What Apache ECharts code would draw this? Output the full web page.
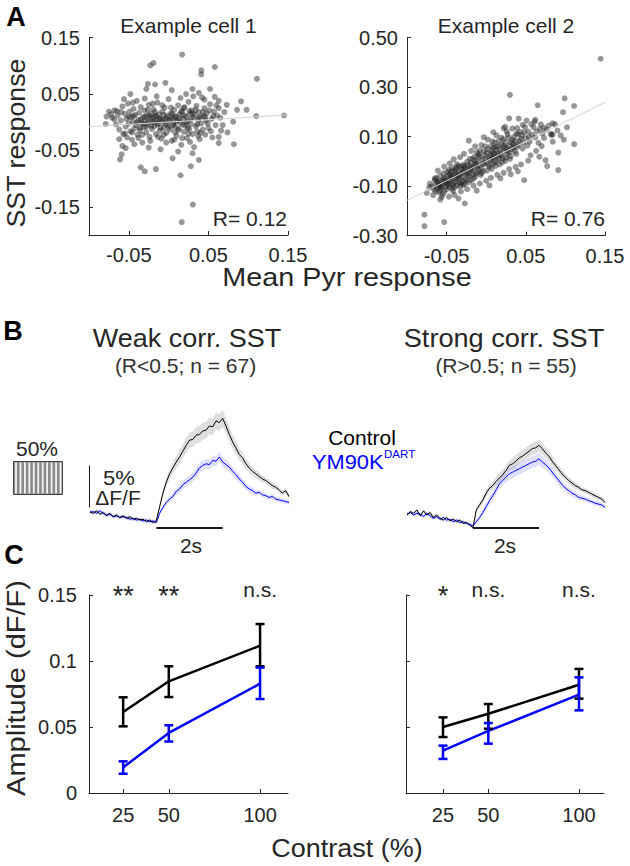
<!DOCTYPE html>
<html><head><meta charset="utf-8">
<script src="https://cdn.jsdelivr.net/npm/echarts@6/dist/echarts.min.js"></script>
<style>html,body{margin:0;padding:0;background:#fff}#c{width:630px;height:866px}</style>
</head><body><div id="c"></div>
<script>
const FONT = '"Liberation Sans", Arial, Helvetica, sans-serif';
const INK = '#262626';

// ---------------- Panel A data ----------------
const cell1Points = [
[-0.071,0.008],[-0.066,-0.004],[-0.064,0.012],[-0.062,-0.013],[-0.060,0.003],[-0.058,0.028],[-0.057,-0.021],[-0.055,0.015],[-0.054,-0.008],[-0.053,0.006],
[-0.052,-0.027],[-0.051,0.033],[-0.050,-0.002],[-0.049,0.019],[-0.048,-0.016],[-0.047,0.009],[-0.046,-0.031],[-0.045,0.001],[-0.044,0.024],[-0.043,-0.011],
[-0.042,0.013],[-0.041,-0.005],[-0.040,0.038],[-0.039,-0.022],[-0.038,0.004],[-0.037,0.017],[-0.036,-0.014],[-0.035,0.027],[-0.034,-0.001],[-0.033,-0.036],
[-0.032,0.009],[-0.031,-0.009],[-0.030,0.021],[-0.029,0.002],[-0.028,-0.018],[-0.027,0.012],[-0.026,-0.004],[-0.025,0.031],[-0.024,-0.026],[-0.023,0.006],
[-0.022,0.015],[-0.021,-0.012],[-0.020,0.001],[-0.019,0.023],[-0.018,-0.007],[-0.017,0.010],[-0.016,-0.021],[-0.015,0.004],[-0.014,0.035],[-0.013,-0.002],
[-0.012,0.014],[-0.011,-0.015],[-0.010,0.007],[-0.009,-0.029],[-0.008,0.019],[-0.007,0.000],[-0.006,-0.010],[-0.005,0.026],[-0.004,0.005],[-0.003,-0.019],
[-0.002,0.012],[-0.001,-0.005],[0.000,0.041],[0.001,0.003],[0.002,-0.013],[0.003,0.016],[0.004,-0.033],[0.005,0.008],[0.006,-0.002],[0.007,0.022],
[0.008,-0.008],[0.009,0.011],[0.010,-0.024],[0.011,0.004],[0.012,0.030],[0.013,-0.011],[0.014,0.014],[0.015,-0.001],[0.016,-0.040],[0.017,0.018],
[0.018,0.006],[0.019,-0.017],[0.020,0.027],[0.021,-0.006],[0.022,0.010],[0.023,-0.028],[0.024,0.002],[0.025,0.036],[0.026,-0.012],[0.027,0.015],
[0.028,-0.003],[0.029,0.021],[0.030,-0.021],[0.031,0.008],[0.032,-0.044],[0.033,0.013],[0.034,-0.007],[0.035,0.029],[0.036,-0.016],[0.037,0.004],
[0.038,0.018],[0.039,-0.030],[0.040,0.009],[0.041,-0.002],[0.042,0.044],[0.043,-0.013],[0.044,0.011],[0.045,0.025],[0.046,-0.022],[0.047,0.003],
[0.048,0.016],[0.050,-0.010],[0.052,0.032],[0.054,0.006],[0.055,-0.027],[0.057,0.019],[0.059,-0.005],[0.061,0.012],[0.063,0.038],[0.066,-0.015],
[-0.035,0.005],[-0.032,-0.003],[-0.030,0.010],[-0.028,-0.008],[-0.026,0.002],[-0.024,0.012],[-0.022,-0.006],[-0.020,0.008],[-0.018,0.000],[-0.016,0.012],
[-0.014,-0.004],[-0.012,0.006],[-0.010,-0.010],[-0.008,0.004],[-0.006,0.013],[-0.004,-0.003],[-0.002,0.008],[0.000,-0.009],[0.002,0.005],[0.004,0.015],
[0.006,-0.005],[0.008,0.009],[0.010,0.001],[0.012,-0.014],[0.014,0.007],[0.016,0.020],[0.018,-0.004],[0.020,0.012],[0.022,0.000],[0.024,-0.010],
[0.026,0.020],[0.028,0.006],[0.030,0.016],[0.025,-0.020],[0.019,0.025],[0.008,-0.018],[-0.006,-0.022],[-0.017,0.018],[-0.026,0.022],[-0.036,-0.010],
[-0.040,0.000],[-0.044,0.011],[-0.046,-0.018],[-0.038,-0.028],[-0.050,0.010],[-0.055,-0.020],[-0.060,0.018],[-0.065,0.020],[-0.068,0.005],[-0.072,0.014],
[0.034,0.022],[0.036,-0.004],[0.038,0.008],[0.040,-0.019],[0.043,0.018],[0.046,0.009],[0.049,-0.002],[0.051,0.021],[0.053,-0.016],[0.056,0.011],
[-0.033,-0.022],[-0.023,-0.033],[-0.013,-0.026],[-0.003,-0.036],[0.007,-0.031],[0.017,-0.028],[0.027,-0.035],[0.037,-0.024],[-0.043,-0.039],[-0.025,-0.045],
[-0.010,-0.048],[0.012,-0.052],[0.030,-0.055],[-0.008,0.030],[0.003,0.026],[-0.020,0.033],[-0.030,0.042],[-0.045,0.035],[0.015,0.043],[0.045,0.040],
[0.022,0.050],[0.038,0.052],[-0.015,0.046],[0.060,0.030],[0.065,0.008],[0.070,0.018],[0.068,-0.005],[0.058,0.045],[-0.062,-0.030],[-0.058,-0.042],
[0.017,0.120],[-0.019,0.105],[-0.023,0.101],[0.041,0.092],[0.041,0.085],[0.058,0.098],[0.111,0.077],[0.145,0.012],[0.110,0.011],[0.098,0.022],
[0.091,0.037],[0.086,0.022],[0.081,0.001],[0.082,-0.039],[0.074,-0.018],[0.063,-0.037],[0.063,-0.026],[0.0165,-0.177],[0.0305,-0.146],[0.015,-0.094],
[0.028,-0.078],[0.038,-0.067],[0.005,-0.064],[-0.016,-0.083],[-0.030,-0.087],[-0.035,-0.080],[-0.061,-0.066],[-0.059,-0.057],[-0.054,-0.046],[-0.078,0.010],
[-0.079,-0.003],[-0.075,0.019],[-0.068,0.021],[-0.056,0.041],[-0.048,0.050],[-0.028,0.059],[-0.026,0.068],[-0.017,0.067],[-0.004,0.070],[0.004,0.057],
[0.030,0.059],[0.031,0.046],[0.052,0.059],[0.063,0.025],[0.073,0.031]
];
const cell2Points = [
[-0.052,-0.088],[-0.031,-0.047],[-0.012,-0.021],[0.008,0.034],[-0.044,-0.061],[0.021,0.012],[-0.025,-0.078],[-0.058,-0.117],[0.003,-0.015],[-0.038,-0.032],
[0.015,0.061],[-0.017,-0.052],[-0.064,-0.095],[0.027,0.043],[-0.008,0.018],[-0.047,-0.104],[0.011,-0.006],[-0.029,-0.013],[-0.053,-0.069],[0.034,0.072],
[-0.021,-0.036],[-0.003,0.041],[-0.041,-0.085],[0.018,0.029],[-0.034,-0.066],[-0.059,-0.078],[0.006,0.009],[-0.014,0.004],[-0.049,-0.043],[0.024,0.077],
[-0.026,-0.025],[0.001,-0.037],[-0.037,-0.098],[0.031,0.021],[-0.011,-0.044],[-0.055,-0.132],[0.013,0.046],[-0.019,-0.007],[-0.043,-0.027],[0.039,0.058],
[-0.006,-0.028],[-0.032,-0.089],[0.009,0.055],[-0.062,-0.108],[-0.023,-0.058],[0.020,-0.003],[-0.046,-0.076],[-0.001,0.012],[-0.039,-0.051],[0.028,0.096],
[-0.016,-0.069],[-0.051,-0.101],[0.005,0.027],[-0.028,-0.041],[0.036,0.040],[-0.009,0.030],[-0.042,-0.119],[0.016,0.011],[-0.035,-0.018],[-0.057,-0.088],
[0.023,0.054],[-0.013,-0.010],[-0.048,-0.057],[0.002,0.050],[-0.027,-0.091],[0.033,0.087],[-0.020,-0.023],[-0.060,-0.125],[0.010,0.019],[-0.036,-0.073],
[-0.004,-0.008],[0.026,0.030],[-0.045,-0.093],[-0.015,0.019],[0.012,-0.018],[-0.030,-0.063],[-0.054,-0.048],[0.019,0.068],[-0.007,-0.055],[-0.040,-0.037],
[0.030,0.010],[-0.024,-0.002],[-0.050,-0.113],[0.007,0.043],[-0.033,-0.052],[0.037,0.083],[-0.010,-0.033],[-0.056,-0.099],[0.014,0.034],[-0.022,-0.084],
[-0.002,0.026],[-0.044,-0.041],[0.022,0.090],[-0.018,-0.039],[-0.061,-0.087],[0.004,-0.022],[-0.037,-0.011],[0.029,0.064],[-0.012,0.037],[-0.048,-0.080],
[0.017,-0.012],[-0.027,-0.072],[-0.058,-0.058],[0.035,0.099],[-0.005,0.006],[-0.040,-0.104],[0.011,0.075],[-0.031,-0.030],[-0.052,-0.066],[0.025,0.015],
[-0.014,-0.062],[0.000,-0.004],[-0.043,-0.071],[0.032,0.049],[-0.021,0.011],[-0.066,-0.112],[0.008,-0.010],[-0.034,-0.085],[0.041,0.068],[-0.009,-0.017],
[-0.047,-0.034],[0.018,0.048],[-0.025,-0.050],[-0.063,-0.066],[0.006,0.062],[-0.038,-0.064],[0.027,0.109],[-0.016,-0.026],[-0.053,-0.122],[0.013,0.003],
[-0.029,-0.096],[-0.001,0.061],[-0.041,-0.055],[0.038,0.031],[-0.011,-0.001],[-0.057,-0.107],[0.021,0.041],[-0.019,-0.076],[0.003,0.017],[-0.035,-0.044],
[0.044,0.092],[-0.006,-0.047],[-0.050,-0.087],[0.016,0.083],[-0.023,-0.015],[-0.045,-0.062],[0.010,0.031],[-0.032,-0.022],[-0.060,-0.098],[0.024,0.002],
[-0.013,-0.049],[-0.039,-0.081],[0.034,0.056],[-0.003,-0.011],[-0.027,-0.033],[0.019,0.022],[-0.055,-0.075],[0.007,-0.030],[-0.017,0.009],[-0.042,-0.096],
[0.047,0.075],[-0.008,0.044],[-0.030,-0.081],[0.012,0.059],[-0.048,-0.093],[0.029,0.036],[-0.021,-0.060],[-0.062,-0.081],[0.001,0.035],[-0.036,-0.058],
[0.040,0.110],[-0.015,-0.013],[-0.046,-0.050],[0.022,0.064],[-0.004,-0.040],[-0.033,-0.100],[0.015,0.023],[-0.024,-0.045],[-0.052,-0.079],[0.031,0.078],
[-0.010,0.022],[-0.038,-0.025],[0.005,0.003],[-0.058,-0.102],[0.026,0.055],[-0.019,-0.030],[-0.043,-0.110],[0.009,0.015],[-0.028,-0.019],[0.036,0.063],
[-0.064,-0.120],[-0.069,-0.101],[-0.067,-0.136],[-0.071,-0.089],[-0.065,-0.075],[0.050,0.094],[0.053,0.121],[0.055,0.080],[0.058,0.108],[0.060,0.138],
[0.043,0.120],[0.046,0.052],[0.049,0.139],[0.052,0.064],[0.057,0.150],[0.062,0.097],[0.064,0.122],[0.066,0.075],[0.069,0.150],[0.071,0.113],
[0.045,0.105],[0.042,0.083],[0.048,0.117],[0.054,0.099],[0.039,0.135],[0.061,0.160],[0.068,0.132],[0.073,0.095],[0.076,0.128],[0.079,0.145],
[0.082,0.112],[0.087,0.150],[0.084,0.080],[0.090,0.125],[0.094,0.105],[0.102,0.138],[0.098,0.088],[0.070,0.062],[0.063,0.043],[0.056,0.025],
[-0.061,-0.037],[-0.053,-0.021],[-0.046,-0.008],[-0.041,0.009],[-0.033,0.017],[-0.028,0.031],[-0.019,0.043],[-0.014,0.061],[-0.006,0.066],[0.002,0.088],
[0.008,0.081],[0.013,0.105],[0.019,0.096],[0.026,0.121],[0.033,0.133],[0.038,0.112],[0.046,0.148],[0.024,0.140],[0.009,0.118],[-0.003,0.098],
[-0.040,-0.135],[-0.032,-0.121],[-0.024,-0.112],[-0.016,-0.098],[-0.008,-0.089],[0.000,-0.078],[0.006,-0.066],[0.014,-0.054],[0.022,-0.046],[0.029,-0.031],
[0.037,-0.022],[0.044,-0.012],[0.053,0.003],[-0.047,-0.142],[-0.035,-0.150],[0.018,-0.068],[0.031,-0.052],[0.040,-0.040],[-0.012,-0.118],[0.004,-0.097],
[0.1445,0.415],[0.030,0.269],[0.099,0.255],[0.065,0.227],[0.111,0.224],[0.097,0.199],[0.111,0.070],[0.091,0.036],[0.091,-0.035],[0.077,-0.019],
[0.067,0.019],[0.075,0.005],[0.048,-0.076],[-0.078,-0.215],[-0.078,-0.261],[-0.053,-0.245],[-0.027,-0.170],[-0.058,-0.154],[-0.056,-0.143],[-0.075,-0.127],
[-0.072,-0.105],[-0.065,-0.069],[-0.022,0.084],[0.084,0.154],[0.082,0.107],[0.084,0.108],[0.041,0.173],[0.051,0.165],[0.062,0.168],[0.073,0.136],
[0.029,0.174],[0.022,0.134]
];
const cell1Fit = [[-0.1,-0.008],[0.15,0.013]];
const cell2Fit = [[-0.1,-0.157],[0.15,0.239]];
const cell1YTicks = [-0.15,-0.05,0.05,0.15];
const cell2YTicks = [-0.30,-0.10,0.10,0.30,0.50];
const pyrXTicks = [-0.05,0.05,0.15];

// ---------------- Panel B data (dF/F, %) ----------------
const traceTime = [-2.0,-1.9,-1.8,-1.7,-1.6,-1.5,-1.4,-1.3,-1.2,-1.1,-1.0,-0.9,-0.8,-0.7,-0.6,-0.5,-0.4,-0.3,-0.2,-0.1,0.0,
0.1,0.2,0.3,0.4,0.5,0.6,0.7,0.8,0.9,1.0,1.1,1.2,1.3,1.4,1.5,1.6,1.7,1.8,1.9,2.0,
2.1,2.2,2.3,2.4,2.5,2.6,2.7,2.8,2.9,3.0,3.1,3.2,3.3,3.4,3.5,3.6,3.7,3.8,3.9,4.0];
const weakControl = [0.4,0.2,0.5,0.1,0.3,-0.1,0.2,-0.2,0.0,-0.3,-0.1,-0.4,-0.2,-0.5,-0.4,-0.6,-0.5,-0.8,-0.6,-0.9,-0.7,
1.0,2.6,3.9,4.9,5.6,6.3,6.9,7.6,8.3,8.9,9.0,9.5,9.6,10.0,10.1,10.6,10.5,11.2,11.0,11.5,
10.6,9.6,8.7,8.0,7.2,6.8,6.1,5.6,5.2,4.9,4.6,4.3,4.1,3.8,3.5,3.3,3.0,2.6,2.9,2.2];
const weakControlSem = [0.2,0.2,0.2,0.2,0.2,0.2,0.2,0.2,0.2,0.2,0.2,0.2,0.2,0.2,0.2,0.2,0.2,0.2,0.2,0.2,0.2,
0.3,0.4,0.5,0.6,0.7,0.7,0.8,0.8,0.9,0.9,0.9,1.0,1.0,1.0,1.0,1.0,1.0,1.0,1.0,1.0,
0.9,0.9,0.8,0.8,0.7,0.7,0.6,0.6,0.5,0.5,0.5,0.4,0.4,0.4,0.4,0.3,0.3,0.3,0.3,0.3];
const weakYM = [0.3,0.4,0.2,0.5,0.2,0.0,0.1,-0.2,-0.1,-0.3,-0.2,-0.3,-0.5,-0.4,-0.6,-0.5,-0.7,-0.6,-0.8,-0.7,-0.9,
0.2,0.9,1.5,1.9,2.2,2.8,3.1,3.6,3.9,4.2,4.5,5.0,5.6,5.9,6.1,6.0,6.5,6.4,6.9,6.3,
6.0,5.7,5.2,4.8,4.3,3.9,3.4,3.1,2.9,2.6,2.7,2.4,2.3,2.1,2.2,1.9,1.8,1.7,1.6,1.5];
const weakYMSem = [0.2,0.2,0.2,0.2,0.2,0.2,0.2,0.2,0.2,0.2,0.2,0.2,0.2,0.2,0.2,0.2,0.2,0.2,0.2,0.2,0.2,
0.2,0.3,0.3,0.4,0.4,0.4,0.5,0.5,0.5,0.5,0.5,0.6,0.6,0.6,0.6,0.6,0.6,0.6,0.6,0.6,
0.6,0.5,0.5,0.5,0.5,0.4,0.4,0.4,0.4,0.3,0.3,0.3,0.3,0.3,0.3,0.3,0.3,0.3,0.3,0.3];
const strongControl = [0.0,0.4,0.2,0.6,-0.1,0.5,0.0,0.3,-0.3,0.0,-0.4,-0.6,-0.3,-0.7,-0.5,-0.8,-0.6,-1.0,-0.9,-1.2,-1.5,
0.6,1.2,1.8,2.6,3.2,3.5,4.0,4.4,4.8,5.3,5.9,6.1,6.4,6.8,7.0,7.3,7.6,7.9,8.0,8.3,
7.9,7.4,7.0,6.4,5.9,5.4,4.9,4.5,4.1,3.8,3.5,3.3,3.0,2.9,2.7,2.5,2.3,2.1,1.9,1.5];
const strongControlSem = [0.2,0.2,0.2,0.2,0.2,0.2,0.2,0.2,0.2,0.2,0.2,0.2,0.2,0.2,0.2,0.2,0.2,0.2,0.2,0.2,0.2,
0.3,0.3,0.4,0.4,0.5,0.5,0.5,0.6,0.6,0.6,0.6,0.7,0.7,0.7,0.7,0.7,0.7,0.7,0.7,0.7,
0.7,0.6,0.6,0.6,0.5,0.5,0.5,0.4,0.4,0.4,0.4,0.3,0.3,0.3,0.3,0.3,0.3,0.3,0.3,0.3];
const strongYM = [0.1,0.3,0.0,0.2,0.1,-0.2,0.2,-0.1,-0.4,-0.2,-0.5,-0.3,-0.6,-0.5,-0.8,-0.6,-0.9,-0.8,-1.0,-1.1,-1.3,
-0.8,-0.3,0.3,1.0,1.7,2.3,3.0,3.7,4.1,4.5,4.9,5.1,5.3,5.5,5.7,5.9,6.1,6.3,6.4,6.7,
6.3,6.0,5.6,5.1,4.6,4.1,3.6,3.2,2.9,2.6,2.4,2.1,2.0,1.9,1.7,1.6,1.4,1.3,1.2,0.9];
const strongYMSem = [0.2,0.2,0.2,0.2,0.2,0.2,0.2,0.2,0.2,0.2,0.2,0.2,0.2,0.2,0.2,0.2,0.2,0.2,0.2,0.2,0.2,
0.3,0.3,0.4,0.4,0.5,0.5,0.6,0.6,0.6,0.6,0.7,0.7,0.7,0.7,0.7,0.7,0.7,0.7,0.7,0.7,
0.7,0.6,0.6,0.6,0.5,0.5,0.5,0.4,0.4,0.4,0.4,0.3,0.3,0.3,0.3,0.3,0.3,0.3,0.3,0.3];
const stimWindow = [0, 2];        // seconds (2s bar)
const scaleBarPct = 5;            // 5% dF/F

// ---------------- Panel C data ----------------
const contrasts = [25, 50, 100];
const weakCtrlMean = [0.0614, 0.0846, 0.1116];
const weakCtrlLo   = [0.0505, 0.0727, 0.0960];
const weakCtrlHi   = [0.0725, 0.0960, 0.1280];
const weakYMMean   = [0.0194, 0.0455, 0.0828];
const weakYMLo     = [0.0146, 0.0390, 0.0712];
const weakYMHi     = [0.0240, 0.0513, 0.0950];
const strongCtrlMean = [0.0500, 0.0600, 0.0820];
const strongCtrlLo   = [0.0424, 0.0487, 0.0715];
const strongCtrlHi   = [0.0573, 0.0674, 0.0940];
const strongYMMean   = [0.0321, 0.0470, 0.0745];
const strongYMLo     = [0.0258, 0.0374, 0.0626];
const strongYMHi     = [0.0359, 0.0530, 0.0876];
const ampTicks = [0, 0.05, 0.1, 0.15];
const weakSig = ['**', '**', 'n.s.'];
const strongSig = ['*', 'n.s.', 'n.s.'];

// ---------------- chart ----------------
const BLUE = '#0000ff';
const chart = echarts.init(document.getElementById('c'), null, {renderer: 'svg'});

function valAxis(gi, min, max, ticks, fmt, showLabel, margin) {
  return {
    gridIndex: gi, type: 'value', min: min, max: max,
    axisLine: {show: true, onZero: false, lineStyle: {color: INK, width: 1}},
    axisTick: {show: true, inside: true, length: 4, customValues: ticks, lineStyle: {color: INK}},
    axisLabel: {show: showLabel, customValues: ticks, formatter: fmt, fontSize: 20, color: INK, fontFamily: FONT, margin: margin},
    splitLine: {show: false}
  };
}
function hiddenAxis(gi, min, max) {
  return {gridIndex: gi, type: 'value', min: min, max: max, show: false, splitLine: {show: false}};
}
const f2 = v => v.toFixed(2);
const fPlain = v => String(+v.toFixed(2));

function bandSeries(ai, mean, sem, color) {
  return {
    type: 'custom', xAxisIndex: ai, yAxisIndex: ai, data: [[0, 0]], silent: true, z: 1,
    renderItem: (p, api) => {
      const up = traceTime.map((t, i) => api.coord([t, mean[i] + sem[i]]));
      const lo = traceTime.map((t, i) => api.coord([t, mean[i] - sem[i]])).reverse();
      return {type: 'polygon', shape: {points: up.concat(lo)}, style: {fill: color}};
    }
  };
}
function traceSeries(ai, mean, color) {
  return {type: 'line', xAxisIndex: ai, yAxisIndex: ai, symbol: 'none', z: 3, silent: true,
    data: traceTime.map((t, i) => [t, mean[i]]), lineStyle: {color: color, width: 1}};
}
function errSeries(ai, lo, hi, color) {
  return {
    type: 'custom', xAxisIndex: ai, yAxisIndex: ai, z: 5, silent: true,
    data: contrasts.map((c, i) => [c, lo[i], hi[i]]),
    renderItem: (p, api) => {
      const x = api.value(0);
      const a = api.coord([x, api.value(1)]), b = api.coord([x, api.value(2)]);
      const w = 4.5, st = {stroke: color, lineWidth: 2.5};
      return {type: 'group', children: [
        {type: 'line', shape: {x1: a[0], y1: a[1], x2: b[0], y2: b[1]}, style: st},
        {type: 'line', shape: {x1: a[0] - w, y1: a[1], x2: a[0] + w, y2: a[1]}, style: st},
        {type: 'line', shape: {x1: b[0] - w, y1: b[1], x2: b[0] + w, y2: b[1]}, style: st}
      ]};
    }
  };
}
function meanLine(ai, mean, color) {
  return {type: 'line', xAxisIndex: ai, yAxisIndex: ai, symbol: 'none', z: 4, silent: true,
    data: contrasts.map((c, i) => [c, mean[i]]), lineStyle: {color: color, width: 2.5}};
}
function sigSeries(ai, labels) {
  return {
    type: 'custom', xAxisIndex: ai, yAxisIndex: ai, z: 6, silent: true,
    data: contrasts.map(c => [c, 0.15]),
    renderItem: (p, api) => {
      const pt = api.coord([api.value(0), api.value(1)]);
      const s = labels[p.dataIndex], star = s.indexOf('*') >= 0;
      return {type: 'text', x: pt[0], y: pt[1] + (star ? 14 : 5),
        style: {text: s, fontSize: star ? 27 : 21, fontFamily: FONT, fill: INK, align: 'center', verticalAlign: 'bottom'}};
    }
  };
}
function scatter(ai, pts) {
  return {type: 'scatter', xAxisIndex: ai, yAxisIndex: ai, data: pts, symbolSize: 6, z: 2, silent: true,
    itemStyle: {color: 'rgba(30,30,30,0.58)'}};
}
function fitLine(ai, pts) {
  return {type: 'line', xAxisIndex: ai, yAxisIndex: ai, data: pts, symbol: 'none', z: 3, silent: true,
    lineStyle: {color: '#d4d4d4', width: 1}};
}
function barLine(ai, pts, w) {
  return {type: 'line', xAxisIndex: ai, yAxisIndex: ai, data: pts, symbol: 'none', z: 4, silent: true,
    lineStyle: {color: '#1a1a1a', width: w}};
}

function txt(x, y, s, size, o) {
  o = o || {};
  return {type: 'text', x: x, y: y, rotation: o.rot || 0, scaleX: o.sx || 1, z: 10,
    style: {text: s, fontSize: size, fontFamily: FONT, fill: o.color || INK, fontWeight: o.bold ? 'bold' : 'normal',
      align: o.align || 'center', verticalAlign: o.va || 'middle'}};
}

const graphics = [
  txt(16, 17, 'A', 27, {bold: true, color: '#000'}),
  txt(13, 331, 'B', 27, {bold: true, color: '#000'}),
  txt(14, 555, 'C', 27, {bold: true, color: '#000'}),
  txt(188.5, 25, 'Example cell 1', 21),
  txt(506, 25, 'Example cell 2', 21),
  txt(287, 218, 'R= 0.12', 21, {align: 'right'}),
  txt(605, 218, 'R= 0.76', 21, {align: 'right'}),
  txt(16, 143, 'SST response', 25, {rot: Math.PI / 2, sx: 1.07}),
  txt(347, 277.5, 'Mean Pyr response', 25, {sx: 1.15}),
  txt(187, 338, 'Weak corr. SST', 25, {sx: 1.08}),
  txt(185.5, 365, '(R<0.5; n = 67)', 21, {color: '#333'}),
  txt(504, 338, 'Strong corr. SST', 25, {sx: 1.085}),
  txt(506, 365, '(R>0.5; n = 55)', 21, {color: '#333'}),
  txt(37, 448, '50%', 21),
  {type: 'rect', shape: {x: 13.5, y: 461.5, width: 49, height: 33}, style: {fill: '#8a8a8a', stroke: '#444', lineWidth: 1}, z: 9}
];
for (let k = 0; k < 11; k++) {
  graphics.push({type: 'line', z: 10, shape: {x1: 16 + k * 4.45, y1: 462.5, x2: 16 + k * 4.45, y2: 493.5},
    style: {stroke: '#f4f4f4', lineWidth: 1.8}});
}
graphics.push(
  txt(119, 477.5, '5%', 20, {sx: 1.1}),
  txt(118, 498, 'ΔF/F', 20, {sx: 1.05}),
  txt(191, 545, '2s', 21),
  txt(505, 545, '2s', 21),
  txt(362, 437, 'Control', 21, {color: '#000'}),
  txt(312, 462, 'YM90K', 21, {color: BLUE, align: 'left', sx: 1.04}),
  txt(384, 454, 'DART', 11, {color: BLUE, align: 'left', sx: 1.05}),
  txt(16, 688, 'Amplitude (dF/F)', 25, {rot: Math.PI / 2, sx: 1.16}),
  txt(347, 848, 'Contrast (%)', 25, {sx: 1.08})
);

const timeBarY = -1.55, scaleBarX = -2.03, scaleBarBase = 0.9;

chart.setOption({
  animation: false,
  backgroundColor: '#fff',
  textStyle: {fontFamily: FONT},
  grid: [
    {left: 89, top: 37.7, width: 199, height: 197.3},
    {left: 407, top: 37.7, width: 198, height: 198},
    {left: 90, top: 405.8, width: 199, height: 126},
    {left: 407, top: 405.8, width: 198, height: 126},
    {left: 89, top: 595, width: 199, height: 198},
    {left: 406, top: 595, width: 198, height: 198}
  ],
  xAxis: [
    valAxis(0, -0.1, 0.15, pyrXTicks, f2, true, 10),
    valAxis(1, -0.1, 0.15, pyrXTicks, f2, true, 10),
    hiddenAxis(2, -2, 4),
    hiddenAxis(3, -2, 4),
    valAxis(4, 6.3, 115.3, contrasts, fPlain, true, 12),
    valAxis(5, 4.6, 113.8, contrasts, fPlain, true, 12)
  ],
  yAxis: [
    valAxis(0, -0.2, 0.15, cell1YTicks, f2, true, 9),
    valAxis(1, -0.3, 0.5, cell2YTicks, f2, true, 9),
    hiddenAxis(2, -2, 13),
    hiddenAxis(3, -2, 13),
    valAxis(4, 0, 0.15, ampTicks, fPlain, true, 12),
    valAxis(5, 0, 0.15, ampTicks, fPlain, false, 12)
  ],
  series: [
    scatter(0, cell1Points), fitLine(0, cell1Fit),
    scatter(1, cell2Points), fitLine(1, cell2Fit),

    bandSeries(2, weakControl, weakControlSem, 'rgba(200,200,200,0.6)'),
    bandSeries(2, weakYM, weakYMSem, 'rgba(140,140,255,0.28)'),
    traceSeries(2, weakYM, BLUE), traceSeries(2, weakControl, '#000'),
    barLine(2, [[stimWindow[0], timeBarY], [stimWindow[1], timeBarY]], 2),
    barLine(2, [[scaleBarX, scaleBarBase], [scaleBarX, scaleBarBase + scaleBarPct]], 2),

    bandSeries(3, strongControl, strongControlSem, 'rgba(200,200,200,0.6)'),
    bandSeries(3, strongYM, strongYMSem, 'rgba(140,140,255,0.28)'),
    traceSeries(3, strongYM, BLUE), traceSeries(3, strongControl, '#000'),
    barLine(3, [[stimWindow[0], timeBarY], [stimWindow[1], timeBarY]], 2),

    meanLine(4, weakCtrlMean, '#000'), meanLine(4, weakYMMean, BLUE),
    errSeries(4, weakCtrlLo, weakCtrlHi, '#000'), errSeries(4, weakYMLo, weakYMHi, BLUE),
    sigSeries(4, weakSig),

    meanLine(5, strongCtrlMean, '#000'), meanLine(5, strongYMMean, BLUE),
    errSeries(5, strongCtrlLo, strongCtrlHi, '#000'), errSeries(5, strongYMLo, strongYMHi, BLUE),
    sigSeries(5, strongSig)
  ],
  graphic: graphics
});
</script></body></html>
